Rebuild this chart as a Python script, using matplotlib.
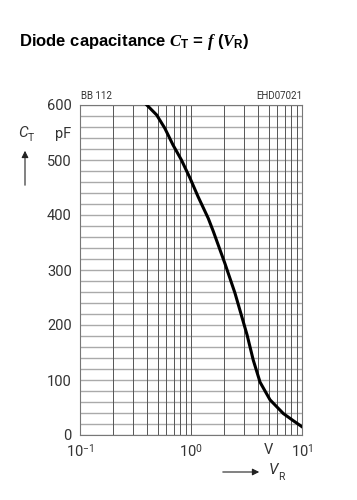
import numpy as np
import matplotlib
matplotlib.use("Agg")
import matplotlib.pyplot as plt
from matplotlib.patches import FancyArrowPatch

# Data
vr = [0.40, 0.49, 0.58, 0.69, 0.82, 0.98, 1.16, 1.43, 1.59, 2.02, 2.49, 3.20, 3.64, 4.19, 5.15, 6.79, 8.35, 10.0]
ct = [600, 582, 558, 527, 500, 467, 433, 394, 370, 312, 258, 182, 136, 96, 64, 39, 26, 15]
ytick_vals = [0, 100, 200, 300, 400, 500, 600]
ytick_labels = ["0", "100", "200", "300", "400", "500", "600"]
xtick_vals = [0.1, 1.0, 5.0, 10.0]
xtick_labels = [r"$10^{-1}$", r"$10^{0}$", "V", r"$10^{1}$"]

plt.rcParams['mathtext.fontset'] = 'custom'
plt.rcParams['mathtext.rm'] = 'Roboto'
plt.rcParams['mathtext.it'] = 'Liberation Serif:italic:bold'
plt.rcParams['mathtext.bf'] = 'Liberation Sans:bold'
plt.rcParams['font.family'] = ['Roboto', 'DejaVu Sans']

fig = plt.figure(figsize=(3.57, 5.0), dpi=100)
ax = fig.add_axes([80/357, 1-435/500, 222/357, 330/500])

ax.set_xscale('log')
ax.set_xlim(0.1, 10)
ax.set_ylim(0, 600)

# grid
for dec in [0.1, 1.0]:
    for m in range(1, 10):
        ax.axvline(dec*m, color='#555555', lw=0.7, zorder=1)
ax.axvline(10, color='#555555', lw=0.7, zorder=1)
for y in np.arange(0, 601, 20):
    ax.axhline(y, color='#aaaaaa', lw=1.0, zorder=0)

for s in ax.spines.values():
    s.set_color('#777777')
    s.set_linewidth(0.8)

ax.plot(vr, ct, color='black', lw=2.2, zorder=3, solid_joinstyle='round')

ax.set_yticks(ytick_vals + [550])
ax.set_yticklabels(ytick_labels + ["pF"])
ax.minorticks_off()
ax.set_xticks(xtick_vals)
ax.set_xticklabels(xtick_labels)
ax.tick_params(length=0, labelsize=10.5, labelcolor='#333333', pad=6)

# small labels above axes
fig.text(81/357, 1-101/500, "BB 112", fontsize=7, color='#333333', ha='left', va='bottom')
fig.text(302/357, 1-101/500, "EHD07021", fontsize=7, color='#333333', ha='right', va='bottom')

# Title
fig.text(19/357, 1-42/500, r"Diode capacitance $\mathit{C}_\mathbf{T}$ = $\mathit{f}$ ($\mathit{V}_\mathbf{R}$)",
         fontsize=12, fontweight='bold', fontfamily='Liberation Sans', ha='left', va='center')

# Y axis label with arrow
fig.text(23/357, 1-133/500, "C", fontsize=11, style='italic', color='#333333', ha='center', va='center')
fig.text(31/357, 1-138/500, "T", fontsize=7.5, color='#333333', ha='center', va='center')
fig.add_artist(FancyArrowPatch((25/357, 1-188/500), (25/357, 1-148/500),
               transform=fig.transFigure, arrowstyle='-|>', mutation_scale=10, color='#222222', lw=0.8))

# X axis label with arrow
fig.add_artist(FancyArrowPatch((220/357, 1-472/500), (262/357, 1-472/500),
               transform=fig.transFigure, arrowstyle='-|>', mutation_scale=10, color='#222222', lw=0.8))
fig.text(273/357, 1-470/500, "V", fontsize=11, style='italic', color='#333333', ha='center', va='center')
fig.text(281/357, 1-477/500, "R", fontsize=7.5, color='#333333', ha='center', va='center')

fig.savefig("out.png", dpi=100)
